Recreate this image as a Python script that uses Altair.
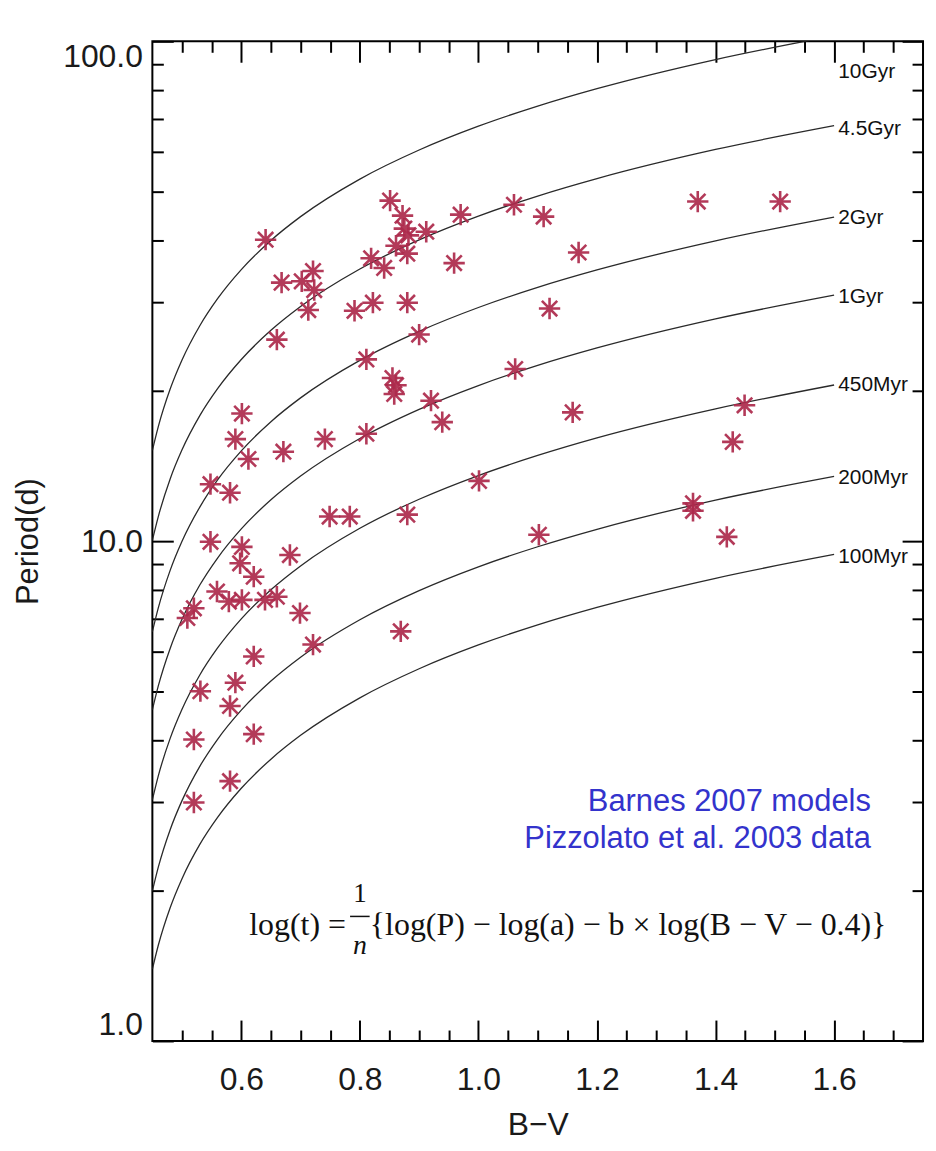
import altair as alt
import pandas as pd

# ---------------- data ----------------
bv_grid = [0.45, 0.46, 0.48, 0.50, 0.53, 0.56, 0.60, 0.65, 0.70, 0.80, 0.90, 1.00, 1.10, 1.20, 1.40, 1.60]
p_100myr = [1.392, 1.554, 1.847, 2.112, 2.473, 2.801, 3.203, 3.663, 4.088, 4.859, 5.556, 6.200, 6.801, 7.370, 8.428, 9.404]
p_200myr = [1.995, 2.227, 2.647, 3.026, 3.544, 4.014, 4.590, 5.249, 5.858, 6.962, 7.961, 8.884, 9.745, 10.56, 12.08, 13.47]
p_450myr = [3.038, 3.392, 4.031, 4.610, 5.398, 6.113, 6.991, 7.995, 8.922, 10.61, 12.13, 13.53, 14.84, 16.09, 18.39, 20.53]
p_1gyr = [4.598, 5.133, 6.101, 6.977, 8.169, 9.253, 10.58, 12.10, 13.50, 16.05, 18.35, 20.48, 22.47, 24.35, 27.84, 31.06]
p_2gyr = [6.588, 7.354, 8.741, 9.995, 11.70, 13.26, 15.16, 17.34, 19.35, 23.00, 26.29, 29.34, 32.19, 34.88, 39.88, 44.50]
p_4p5gyr = [10.04, 11.20, 13.32, 15.23, 17.83, 20.19, 23.09, 26.41, 29.47, 35.03, 40.06, 44.70, 49.03, 53.13, 60.76, 67.80]
p_10gyr = [15.19, 16.95, 20.15, 23.04, 26.98, 30.56, 34.94, 39.96, 44.59, 53.01, 60.61, 67.64, 74.19, 80.40, 91.94, 102.6]

curve_names = ["10Gyr", "4.5Gyr", "2Gyr", "1Gyr", "450Myr", "200Myr", "100Myr"]
curve_periods = [p_10gyr, p_4p5gyr, p_2gyr, p_1gyr, p_450myr, p_200myr, p_100myr]
label_bv = [1.607, 1.607, 1.607, 1.607, 1.607, 1.607, 1.607]
label_period = [86.7, 66.8, 44.4, 30.8, 20.5, 13.4, 9.29]

star_bv = [0.641, 0.851, 0.872, 0.875, 0.882, 0.861, 0.880, 0.912, 0.970, 1.060,
           1.110, 1.370, 1.509, 0.819, 0.841, 0.959, 1.169, 0.668, 0.702, 0.721,
           0.723, 0.713, 0.791, 0.822, 0.880, 0.660, 0.900, 0.811, 1.062, 0.855,
           0.861, 0.858, 0.920, 0.939, 1.159, 1.449, 0.601, 0.590, 0.612, 0.671,
           0.741, 0.811, 0.548, 0.581, 1.429, 1.001, 0.749, 0.783, 0.880, 1.362,
           1.362, 1.102, 1.419, 0.548, 0.601, 0.598, 0.621, 0.682, 0.559, 0.579,
           0.601, 0.640, 0.660, 0.520, 0.509, 0.699, 0.869, 0.721, 0.621, 0.531,
           0.590, 0.581, 0.621, 0.520, 0.581, 0.520, 1.120]
star_period = [40.1, 48.0, 44.8, 42.2, 40.9, 39.0, 37.6, 41.6, 45.0, 47.1,
               44.6, 47.8, 47.8, 36.8, 35.2, 36.0, 37.8, 32.9, 33.1, 34.7,
               31.8, 29.0, 28.9, 30.0, 30.0, 25.3, 25.9, 23.1, 22.1, 21.2,
               20.5, 19.7, 19.1, 17.3, 18.1, 18.7, 18.0, 16.0, 14.6, 15.1,
               16.0, 16.4, 13.0, 12.5, 15.8, 13.2, 11.2, 11.2, 11.3, 11.9,
               11.5, 10.3, 10.2, 9.97, 9.74, 9.03, 8.49, 9.38, 7.93, 7.57,
               7.63, 7.63, 7.74, 7.34, 7.02, 7.18, 6.60, 6.21, 5.88, 5.01,
               5.21, 4.68, 4.11, 4.01, 3.31, 3.00, 29.2]

x_major = [0.6, 0.8, 1.0, 1.2, 1.4, 1.6]
x_ticks = [0.5, 0.55, 0.6, 0.65, 0.7, 0.75, 0.8, 0.85, 0.9, 0.95, 1.0, 1.05, 1.1, 1.15,
           1.2, 1.25, 1.3, 1.35, 1.4, 1.45, 1.5, 1.55, 1.6, 1.65, 1.7]
y_major = [1, 10, 100]
y_ticks = [1, 2, 3, 4, 5, 6, 7, 8, 9, 10, 20, 30, 40, 50, 60, 70, 80, 90, 100]

credit_lines = ["Barnes 2007 models", "Pizzolato et al. 2003 data"]
credit_bv = [1.662, 1.662]
credit_period = [3.006, 2.537]

# ---------------- tables ----------------
rows = []
for name, ps in zip(curve_names, curve_periods):
    for b, p in zip(bv_grid, ps):
        rows.append({"bv": b, "period": p, "age": name})
curves_df = pd.DataFrame(rows)
labels_df = pd.DataFrame({"bv": label_bv, "period": label_period, "age": curve_names})
stars_df = pd.DataFrame({"bv": star_bv, "period": star_period})
credit_df = pd.DataFrame({"bv": credit_bv, "period": credit_period, "text": credit_lines})

W, H = 774, 1004
FONT = "Liberation Sans"
SERIF = "Liberation Serif"
xscale = alt.Scale(domain=[0.45, 1.75], nice=False, zero=False)
yscale = alt.Scale(type="log", domain=[1, 100], nice=False)

x_major_test = "abs(datum.value * 5 - round(datum.value * 5)) < 0.001"
y_major_test = "datum.value == 1 || datum.value == 10 || datum.value == 100"
x_tick_size = {"condition": {"test": x_major_test, "value": 21}, "value": 11}
y_tick_size = {"condition": {"test": y_major_test, "value": 21}, "value": 11}

x_label_axis = alt.Axis(orient="bottom", values=x_major, format=".1f", ticks=False, tickSize=0,
                        domain=False, grid=False, labelPadding=24, labelFont=FONT,
                        labelFontSize=32, labelColor="#1a1a1a", title="B\u2212V",
                        titleFont=FONT, titleFontSize=32, titleFontWeight="normal",
                        titleColor="#1a1a1a", titleX=W / 2, titleY=84,
                        titleAlign="center", titleBaseline="middle")
y_label_axis = alt.Axis(orient="left", values=y_major, format=".1f", ticks=False, tickSize=0,
                        domain=False, grid=False, labelPadding=10, labelFlush=True,
                        labelFont=FONT, labelFontSize=32, labelColor="#1a1a1a",
                        title="Period(d)", titleFont=FONT, titleFontSize=31,
                        titleFontWeight="normal", titleColor="#1a1a1a", titleAngle=270,
                        titleX=-124, titleY=H / 2, titleAlign="center", titleBaseline="middle")

def tick_axis(orient, offset, values, size):
    return alt.Axis(orient=orient, offset=offset, values=values, labels=False, title=None,
                    domain=False, grid=False, tickSize=size, tickWidth=2, tickColor="black")

def data_x():
    return alt.X("bv:Q", scale=xscale, axis=None)

def data_y():
    return alt.Y("period:Q", scale=yscale, axis=None)

# curves with the label axes
curves = alt.Chart(curves_df).mark_line(
    color="#2a2a2a", strokeWidth=1.3, interpolate="monotone", clip=True
).encode(
    x=alt.X("bv:Q", scale=xscale, axis=x_label_axis),
    y=alt.Y("period:Q", scale=yscale, axis=y_label_axis),
    detail="age:N",
)

# stars with inward ticks on bottom and left
star_shape = "M0,-1L0,1M-1,0L1,0M-0.72,-0.72L0.72,0.72M-0.72,0.72L0.72,-0.72"
stars = alt.Chart(stars_df).mark_point(
    shape=star_shape, filled=False, size=460, strokeWidth=2.6, color="#ad2a4c", opacity=0.92
).encode(
    x=alt.X("bv:Q", scale=xscale, axis=tick_axis("top", -H, x_ticks, x_tick_size)),
    y=alt.Y("period:Q", scale=yscale, axis=tick_axis("right", -W, y_ticks, y_tick_size)),
)

# curve labels with inward ticks on top and right
curve_labels = alt.Chart(labels_df).mark_text(
    align="left", baseline="middle", font=FONT, fontSize=21, color="#111111"
).encode(
    x=alt.X("bv:Q", scale=xscale, axis=tick_axis("bottom", -H, x_ticks, x_tick_size)),
    y=alt.Y("period:Q", scale=yscale, axis=tick_axis("left", -W, y_ticks, y_tick_size)),
    text="age:N",
)

credits = alt.Chart(credit_df).mark_text(
    align="right", baseline="middle", font=FONT, fontSize=31, color="#3333cc"
).encode(x=data_x(), y=data_y(), text="text:N")

# formula pieces placed in data coordinates
formula_lhs = pd.DataFrame({"bv": [0.7765], "period": [1.702], "text": ["log(t) ="]})
formula_rhs = pd.DataFrame({"bv": [0.8168], "period": [1.702],
                            "text": ["{log(P) \u2212 log(a) \u2212 b \u00d7 log(B \u2212 V \u2212 0.4)}"]})
frac_num = pd.DataFrame({"bv": [0.80], "period": [1.97], "text": ["1"]})
frac_den = pd.DataFrame({"bv": [0.80], "period": [1.546], "text": ["n"]})
bar_df = pd.DataFrame({"bv": [0.7835], "bv2": [0.8165], "period": [1.775]})

formula_left = alt.Chart(formula_lhs).mark_text(
    align="right", baseline="middle", font=SERIF, fontSize=32, color="#111111"
).encode(x=data_x(), y=data_y(), text="text:N")
formula_right = alt.Chart(formula_rhs).mark_text(
    align="left", baseline="middle", font=SERIF, fontSize=32, color="#111111"
).encode(x=data_x(), y=data_y(), text="text:N")
num_text = alt.Chart(frac_num).mark_text(
    align="center", baseline="middle", font=SERIF, fontSize=27, color="#111111"
).encode(x=data_x(), y=data_y(), text="text:N")
den_text = alt.Chart(frac_den).mark_text(
    align="center", baseline="middle", font=SERIF, fontSize=28, fontStyle="italic",
    color="#111111"
).encode(x=data_x(), y=data_y(), text="text:N")
frac_bar = alt.Chart(bar_df).mark_rule(color="#111111", strokeWidth=1.5).encode(
    x=data_x(), x2="bv2:Q", y=data_y(),
)

chart = alt.layer(
    curves, stars, curve_labels, credits, formula_left, formula_right,
    num_text, den_text, frac_bar
).resolve_axis(
    x="independent", y="independent"
).properties(
    width=W, height=H,
    autosize=alt.AutoSizeParams(type="none"),
    padding={"left": 145, "top": 31, "right": 5, "bottom": 100},
    background="white",
).configure_view(
    stroke="black", strokeWidth=2
)

chart.save("out.html", embed_options={"renderer": "svg", "actions": False})
